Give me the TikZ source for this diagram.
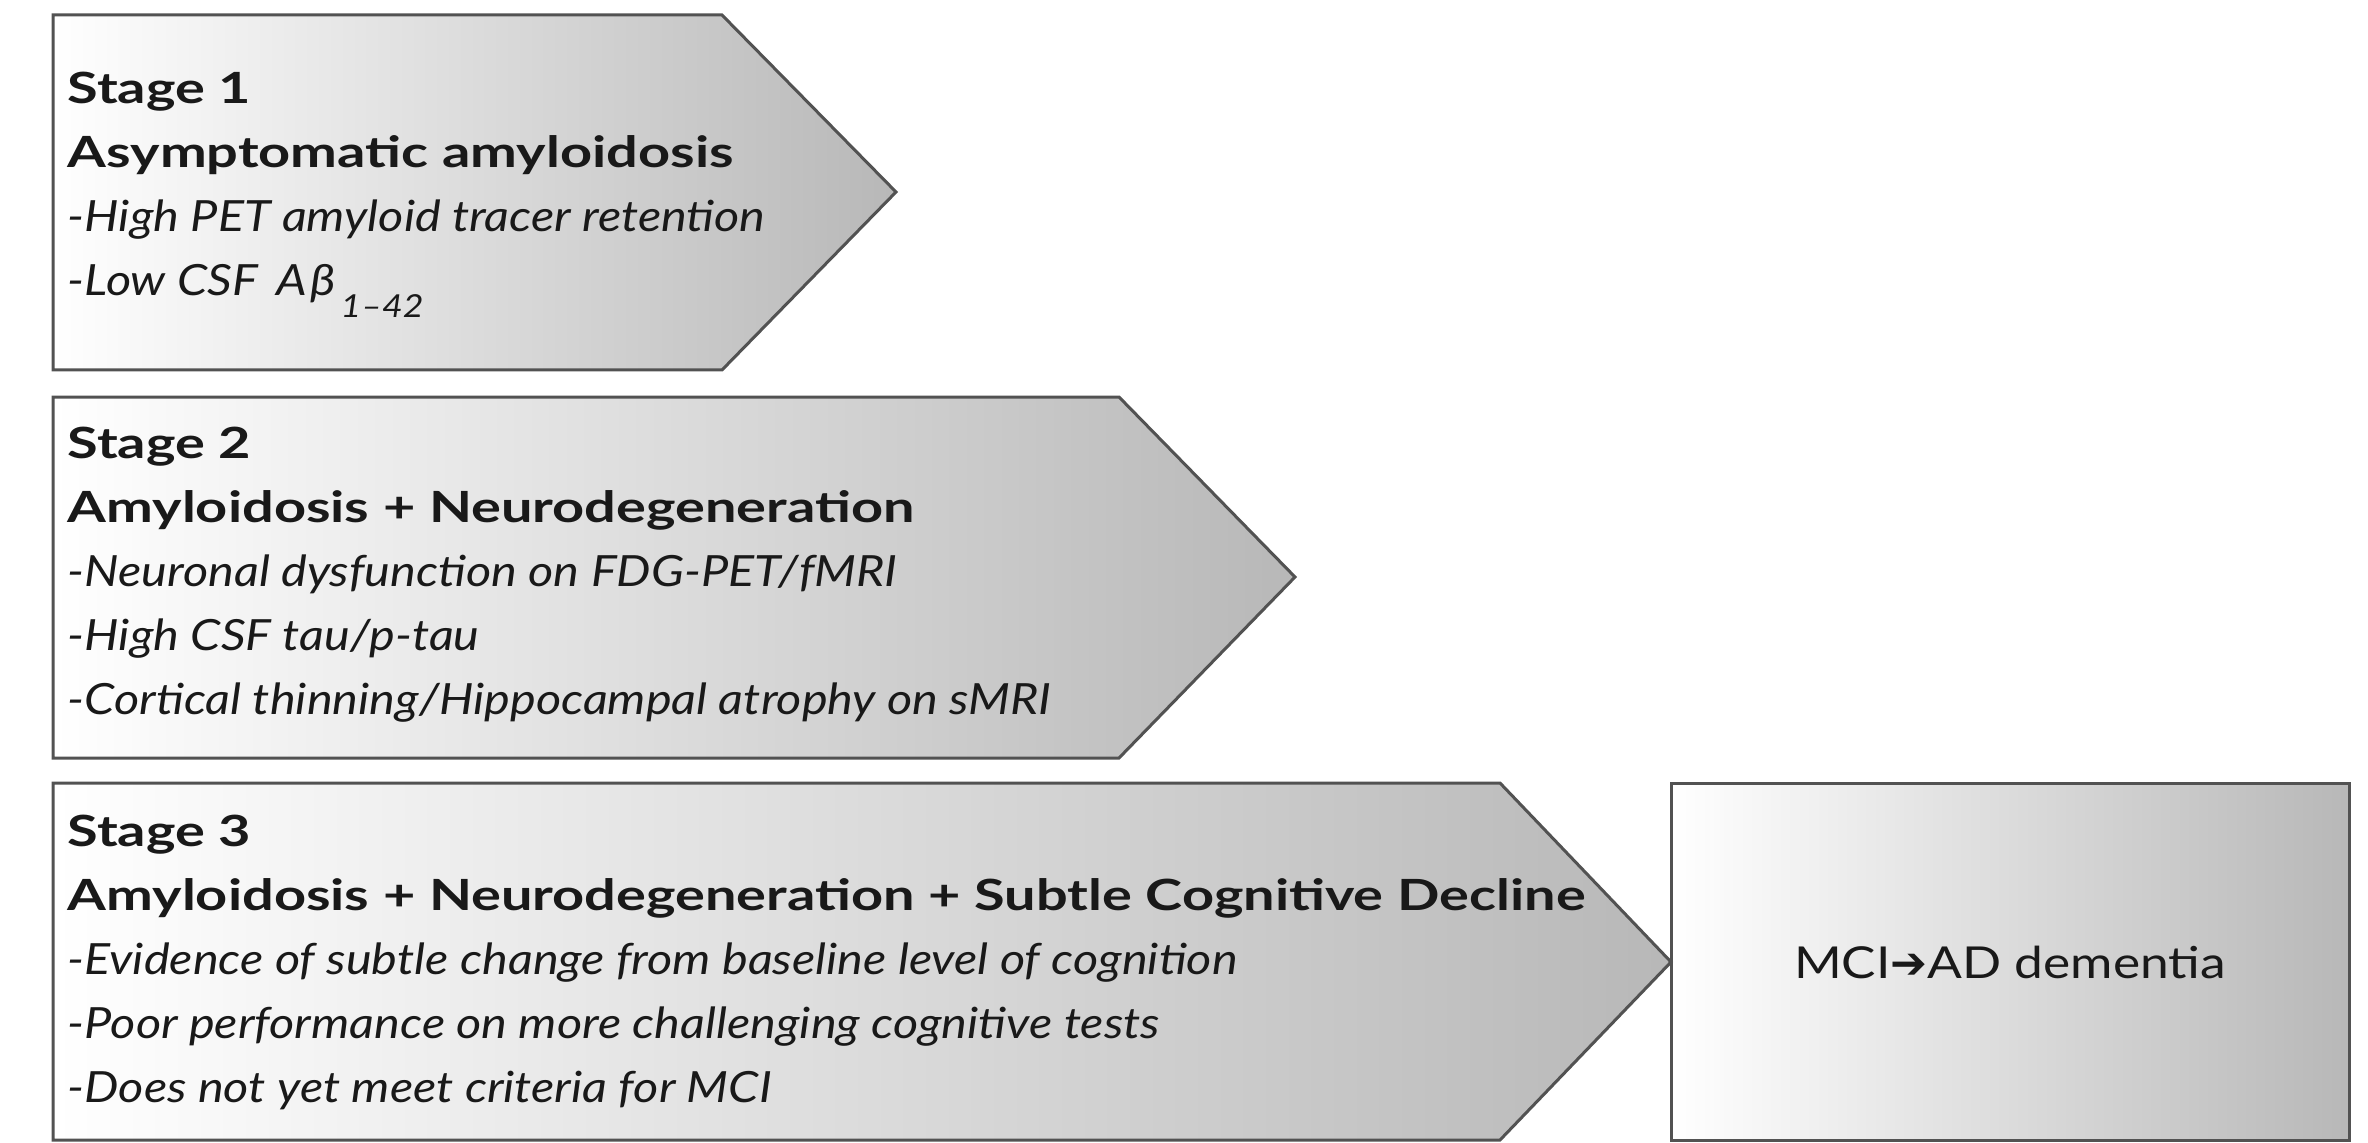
\documentclass[tikz,border=0pt]{standalone}
\usepackage{fontspec}
\setmainfont{Lato}[UprightFeatures={FakeStretch=1.17}, BoldFeatures={FakeStretch=1.3}, ItalicFeatures={FakeStretch=1.13}]
\newfontfamily\arrowfont{DejaVu Sans}
\begin{document}
\begin{tikzpicture}[x=0.3pt,y=-0.3pt,
  stagebox/.style={draw=black!68, line width=0.9pt, line join=miter, left color=white, right color=black!28},
  stagetext/.style={anchor=west, align=left, inner sep=0pt, text=black!90,
    font=\fontsize{12.9pt}{19.2pt}\selectfont},
  endtext/.style={inner sep=0pt, text=black!90, font=\fontsize{13.2pt}{15pt}\selectfont}]
\useasboundingbox (0,0) rectangle (2368,1143);
% shapes
\path[stagebox] (53,15) -- (722,15) -- (896,192) -- (722,370) -- (53,370) -- cycle;
\path[stagebox] (53,397) -- (1119,397) -- (1295,577) -- (1119,758) -- (53,758) -- cycle;
\path[stagebox] (1671,783) rectangle (2349,1140);
\path[stagebox] (53,783) -- (1500,783) -- (1671,962) -- (1500,1140) -- (53,1140) -- cycle;
% texts
\node[stagetext] (s1) at (67,195) {\textbf{Stage 1}\\ \textbf{Asymptomatic amyloidosis}\\ \textit{-High PET amyloid tracer retention}\\ \textit{-Low CSF\hspace{0.15em} A\hspace{0.1em}β\hspace{0.1em}\raisebox{-1.0ex}{\fontsize{9.5pt}{10pt}\selectfont 1–42}}};
\node[stagetext] (s2) at (67,575) {\textbf{Stage 2}\\ \textbf{Amyloidosis + Neurodegeneration}\\ \textit{-Neuronal dysfunction on FDG-PET/fMRI}\\ \textit{-High CSF tau/p-tau}\\ \textit{-Cortical thinning/Hippocampal atrophy on sMRI}};
\node[stagetext] (s3) at (67,962) {\textbf{Stage 3}\\ \textbf{Amyloidosis + Neurodegeneration + Subtle Cognitive Decline}\\ \textit{-Evidence of subtle change from baseline level of cognition}\\ \textit{-Poor performance on more challenging cognitive tests}\\ \textit{-Does not yet meet criteria for MCI}};
\node[endtext] (ad) at (2010,962) {MCI{\arrowfont ➔}AD dementia};
\end{tikzpicture}
\end{document}
